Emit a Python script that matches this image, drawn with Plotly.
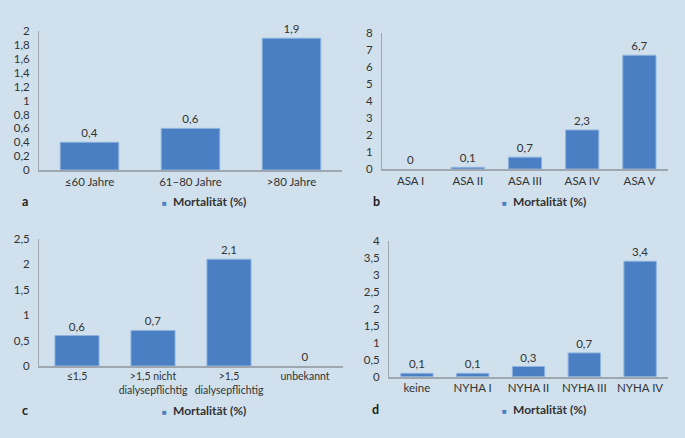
import plotly.graph_objects as go

# ---- data ----
cats_a = ["≤60 Jahre", "61–80 Jahre", ">80 Jahre"]
vals_a = [0.4, 0.6, 1.9]

cats_b = ["ASA I", "ASA II", "ASA III", "ASA IV", "ASA V"]
vals_b = [0, 0.1, 0.7, 2.3, 6.7]

cats_c = ["≤1,5", ">1,5 nicht<br>dialysepflichtig", ">1,5<br>dialysepflichtig", "unbekannt"]
vals_c = [0.6, 0.7, 2.1, 0]

cats_d = ["keine", "NYHA I", "NYHA II", "NYHA III", "NYHA IV"]
vals_d = [0.1, 0.1, 0.3, 0.7, 3.4]

series_name = "Mortalität (%)"
panel_letters = ["a", "b", "c", "d"]
y_ranges = [(0, 2, 0.2), (0, 8, 1), (0, 2.5, 0.5), (0, 4, 0.5)]

W, H = 685, 438
BG = "#d0e1ed"
BAR = "#4a80c3"
BAR_LINE = "#8db3df"
AXIS = "#9ea7b0"
TXT = "#333333"
FONT = "Lato"
FS = 11.5
XFS = [11.5, 11.5, 10.5, 11.5]

def px_x(p):
    return p / W

def px_y(p):
    return (H - p) / H

# axis domains in pixels: (x0, x1, y_bottom, y_top)
doms = [
    (39, 342, 168, 25),
    (382, 668, 167, 27),
    (39, 343, 370, 239),
    (389, 668, 381, 241),
]

def fmt(v):
    return f"{v:g}".replace(".", ",")

fig = go.Figure()
datasets = [(cats_a, vals_a), (cats_b, vals_b), (cats_c, vals_c), (cats_d, vals_d)]
for i, (cats, vals) in enumerate(datasets):
    sfx = "" if i == 0 else str(i + 1)
    fig.add_trace(go.Bar(
        x=cats, y=vals,
        text=[fmt(v) for v in vals],
        textposition="outside",
        textfont=dict(family=FONT, size=FS, color=TXT),
        marker=dict(color=BAR, line=dict(color=BAR_LINE,
                                         width=[0 if v == 0 else 1 for v in vals])),
        cliponaxis=False,
        showlegend=False,
        name=series_name,
        xaxis="x" + sfx, yaxis="y" + sfx,
    ))
    x0, x1, yb, yt = doms[i]
    lo, hi, dt = y_ranges[i]
    fig.update_layout(**{
        "xaxis" + sfx: dict(
            domain=[px_x(x0), px_x(x1)], anchor="y" + sfx,
            showline=True, linecolor=AXIS, linewidth=1.5,
            showgrid=False, zeroline=False, ticks="", tickangle=0,
            tickfont=dict(family=FONT, size=XFS[i], color=TXT),
            fixedrange=True,
        ),
        "yaxis" + sfx: dict(
            domain=[px_y(yb), px_y(yt)], anchor="x" + sfx,
            range=[lo, hi], dtick=dt, tick0=0,
            showline=True, linecolor=AXIS, linewidth=1,
            showgrid=False, zeroline=False,
            ticks="outside", ticklen=6, tickcolor="rgba(0,0,0,0)",
            tickfont=dict(family=FONT, size=FS, color=TXT),
            fixedrange=True,
        ),
    })

# legends (as annotations) and panel letters
legend_pos = [(163, 200), (503, 200), (163, 416), (503, 415)]
letter_pos = [(20, 200), (371, 200), (20, 416), (370, 415)]
for (lx, ly), (tx, ty), letter in zip(legend_pos, letter_pos, panel_letters):
    fig.add_annotation(
        x=px_x(lx - 3), y=px_y(ly), xref="paper", yref="paper",
        xanchor="left", yanchor="middle", showarrow=False,
        text=f"<span style='color:{BAR};font-size:8px'>■</span>  <b>{series_name}</b>",
        font=dict(family=FONT, size=12, color=TXT),
    )
    fig.add_annotation(
        x=px_x(tx), y=px_y(ty), xref="paper", yref="paper",
        xanchor="left", yanchor="middle", showarrow=False,
        text=f"<b>{letter}</b>",
        font=dict(family=FONT, size=12.5, color="#222222"),
    )

fig.update_layout(
    width=W, height=H,
    margin=dict(l=0, r=0, t=0, b=0),
    paper_bgcolor=BG, plot_bgcolor=BG,
    separators=",.",
    bargap=0.42,
    showlegend=False,
    font=dict(family=FONT, size=FS, color=TXT),
)

fig.write_html(
    "out.html", include_plotlyjs=True,
    config={"displayModeBar": False},
    post_script="document.body.style.margin='0';document.body.style.padding='0';document.body.style.background='%s';" % BG,
)
